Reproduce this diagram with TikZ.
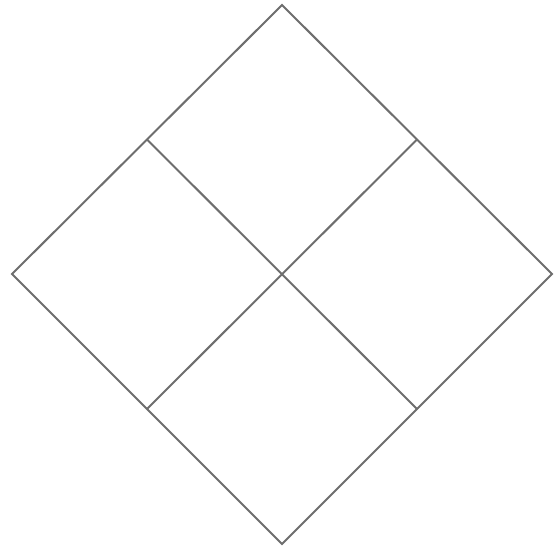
\documentclass[tikz,border=0pt]{standalone}
\definecolor{linegray}{HTML}{6E6E6E}
\tikzset{edge/.style={draw=linegray,line width=2pt,line join=miter}}
\begin{document}
\begin{tikzpicture}[x=1pt,y=-1pt]
\useasboundingbox[fill=white] (0,0) rectangle (556,549);
\coordinate (T) at (282,5);
\coordinate (L) at (12,274);
\coordinate (R) at (552,274);
\coordinate (B) at (282,544);
\coordinate (TL) at (147,139.5);
\coordinate (TR) at (417,139.5);
\coordinate (BL) at (147,409);
\coordinate (BR) at (417,409);
\draw[edge] (T) -- (R) -- (B) -- (L) -- cycle;
\draw[edge] (TL) -- (BR);
\draw[edge] (TR) -- (BL);
\end{tikzpicture}
\end{document}
